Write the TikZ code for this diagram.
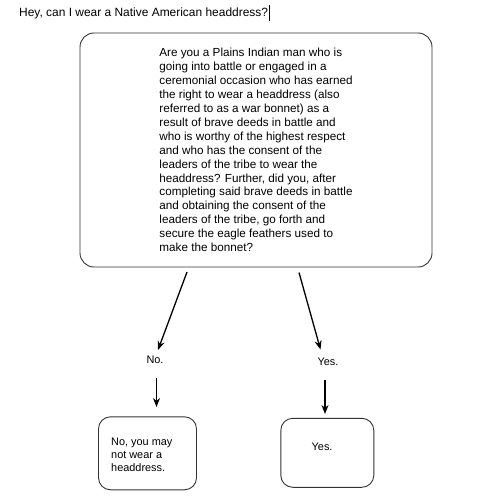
\documentclass[tikz,border=0pt]{standalone}
\usepackage{fontspec}
\setmainfont{Liberation Sans}
\usetikzlibrary{arrows.meta}
\begin{document}
\begin{tikzpicture}[x=1pt,y=-1pt,
  box/.style={draw=black!80,line width=0.9pt,rounded corners=14pt},
  txt/.style={font=\fontsize{11.7}{13.93}\selectfont,align=left,inner sep=0pt},
  small/.style={font=\fontsize{10.9}{13}\selectfont,align=left,inner sep=0pt},
  arr/.style={line width=1.3pt,-{Stealth[length=9pt,width=7pt]}}]
\useasboundingbox (0,0) rectangle (500,495);
\node[anchor=west,inner sep=0pt,font=\fontsize{11.95}{14}\selectfont] (title) at (19,13) {Hey, can I wear a Native American headdress?};
\coordinate (cur1) at ([xshift=1pt,yshift=8pt]title.east);
\coordinate (cur2) at ([xshift=1pt,yshift=-8pt]title.east);
\draw[line width=0.5pt] (cur1) -- (cur2);
\node[box,minimum width=352pt,minimum height=234pt,txt] (q) at (256,150) {Are you a Plains Indian man who is\\
going into battle or engaged in a\\
ceremonial occasion who has earned\\
the right to wear a headdress (also\\
referred to as a war bonnet) as a\\
result of brave deeds in battle and\\
who is worthy of the highest respect\\
and who has the consent of the\\
leaders of the tribe to wear the\\
headdress? Further, did you, after\\
completing said brave deeds in battle\\
and obtaining the consent of the\\
leaders of the tribe, go forth and\\
secure the eagle feathers used to\\
make the bonnet?};
\node[small] (no) at (155,360) {No.};
\node[small] (yes) at (328,361.5) {Yes.};
\coordinate (a1s) at (187,272);
\coordinate (a1e) at (158,350);
\coordinate (a2s) at (299,272.5);
\coordinate (a2e) at (320.5,349.5);
\coordinate (b1s) at (156.5,378);
\coordinate (b1e) at (156.5,407);
\coordinate (b2s) at (325,380);
\coordinate (b2e) at (325,414);
\draw[arr] (a1s) -- (a1e);
\draw[arr] (a2s) -- (a2e);
\draw[arr] (b1s) -- (b1e);
\draw[arr] (b2s) -- (b2e);
\node[box,rounded corners=12pt,minimum width=98pt,minimum height=73pt] (nobox) at (147.5,453.3) {};
\node[box,rounded corners=12pt,minimum width=93pt,minimum height=69pt] (yesbox) at (327.3,452.8) {};
\node[small,anchor=west] (notext) at (111,455) {No, you may\\not wear a\\headdress.};
\node[small,anchor=west] (yestext) at (311.5,446.5) {Yes.};
\end{tikzpicture}
\end{document}
